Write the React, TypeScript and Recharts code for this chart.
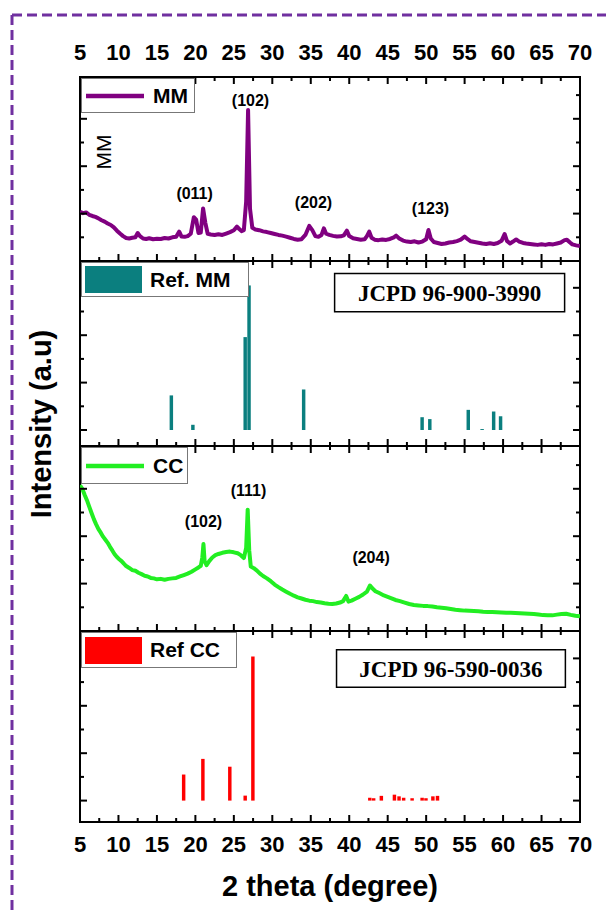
import React from 'react';
import { ComposedChart, Line, Bar, XAxis, YAxis, ReferenceArea, ReferenceDot, Legend } from 'recharts';

const SANS = '"Liberation Sans", Arial, sans-serif';
const SERIF = '"Liberation Serif", "Times New Roman", serif';

// shared 2-theta axis
const thetaTicks = [5, 7.5, 10, 12.5, 15, 17.5, 20, 22.5, 25, 27.5, 30, 32.5, 35, 37.5, 40, 42.5, 45, 47.5, 50, 52.5, 55, 57.5, 60, 62.5, 65, 67.5, 70];

// MM measured pattern (a.u.)
const mmTheta = [5.0, 5.4, 5.8, 6.2, 6.6, 7.0, 7.4, 7.8, 8.2, 8.6, 9.0, 9.4, 9.8, 10.2, 10.6, 11.0, 11.4, 11.8, 12.2, 12.5, 12.8, 13.2, 13.6, 14.0, 14.5, 15.0, 15.5, 16.0, 16.5, 17.0, 17.5, 17.9, 18.2, 18.6, 19.0, 19.4, 19.8, 20.1, 20.4, 20.7, 21.0, 21.3, 21.6, 22.0, 22.5, 23.0, 23.5, 24.0, 24.5, 25.0, 25.4, 25.7, 26.0, 26.3, 26.6, 26.85, 27.1, 27.4, 27.8, 28.3, 28.8, 29.3, 29.8, 30.3, 30.8, 31.3, 31.8, 32.3, 32.8, 33.3, 33.8, 34.3, 34.8, 35.2, 35.6, 36.0, 36.4, 36.7, 37.0, 37.4, 37.9, 38.4, 38.9, 39.3, 39.7, 40.0, 40.5, 41.0, 41.5, 42.0, 42.3, 42.6, 42.9, 43.3, 43.8, 44.3, 44.8, 45.3, 45.8, 46.1, 46.5, 47.0, 47.5, 48.0, 48.5, 49.0, 49.5, 50.0, 50.3, 50.6, 51.0, 51.5, 52.0, 52.5, 53.0, 53.5, 54.0, 54.5, 55.0, 55.4, 55.8, 56.3, 56.8, 57.3, 57.8, 58.3, 58.8, 59.3, 59.8, 60.2, 60.5, 60.9, 61.3, 61.7, 62.1, 62.6, 63.0, 63.5, 64.0, 64.5, 65.0, 65.5, 66.0, 66.5, 67.0, 67.5, 68.0, 68.3, 68.7, 69.0, 69.5, 70.0];
const mmIntensity = [2.08, 2.02, 2.05, 1.95, 1.90, 1.86, 1.80, 1.72, 1.66, 1.58, 1.52, 1.42, 1.28, 1.16, 1.05, 0.97, 0.95, 0.98, 1.00, 1.18, 1.05, 0.95, 0.93, 0.96, 0.92, 0.94, 0.93, 0.97, 0.95, 1.00, 1.02, 1.24, 1.03, 1.02, 1.05, 1.15, 1.85, 1.75, 1.18, 1.20, 2.22, 1.60, 1.15, 1.12, 1.10, 1.13, 1.10, 1.16, 1.22, 1.30, 1.45, 1.35, 1.26, 1.30, 2.50, 6.37, 2.20, 1.40, 1.33, 1.30, 1.25, 1.22, 1.18, 1.14, 1.10, 1.07, 1.03, 0.98, 0.93, 0.90, 0.92, 1.10, 1.48, 1.30, 1.05, 1.02, 1.10, 1.38, 1.15, 1.10, 1.06, 1.03, 1.04, 1.08, 1.28, 1.05, 0.96, 0.93, 0.90, 0.92, 1.05, 1.24, 0.98, 0.90, 0.88, 0.91, 0.89, 0.93, 1.00, 1.07, 0.95, 0.86, 0.82, 0.80, 0.83, 0.78, 0.82, 0.92, 1.31, 0.95, 0.80, 0.76, 0.72, 0.74, 0.78, 0.80, 0.84, 0.90, 1.03, 0.92, 0.83, 0.80, 0.77, 0.74, 0.72, 0.75, 0.72, 0.76, 0.85, 1.14, 0.85, 0.74, 0.82, 0.91, 0.82, 0.76, 0.74, 0.72, 0.70, 0.68, 0.71, 0.68, 0.72, 0.70, 0.74, 0.78, 0.88, 0.90, 0.78, 0.70, 0.66, 0.63];

// Ref. MM stick pattern (JCPD 96-900-3990)
const refMmTheta = [16.9, 19.7, 26.5, 27.0, 34.1, 49.5, 50.5, 55.5, 57.3, 58.8, 59.7];
const refMmIntensity = [1.46, 0.22, 3.92, 6.1, 1.71, 0.54, 0.46, 0.85, 0.04, 0.78, 0.58];

// CC measured pattern (a.u.)
const ccTheta = [5.0, 5.3, 5.6, 5.9, 6.2, 6.5, 6.8, 7.1, 7.4, 7.7, 8.0, 8.3, 8.6, 8.9, 9.2, 9.5, 9.8, 10.1, 10.4, 10.7, 11.0, 11.4, 11.8, 12.2, 12.6, 13.0, 13.4, 13.8, 14.2, 14.6, 15.0, 15.5, 16.0, 16.5, 17.0, 17.5, 18.0, 18.5, 19.0, 19.5, 20.0, 20.4, 20.7, 20.9, 21.05, 21.2, 21.45, 21.8, 22.2, 22.6, 23.0, 23.5, 24.0, 24.5, 25.0, 25.5, 25.9, 26.3, 26.6, 26.8, 27.0, 27.2, 27.6, 28.0, 28.4, 28.8, 29.3, 29.8, 30.3, 30.8, 31.3, 31.8, 32.3, 32.8, 33.3, 33.8, 34.3, 34.8, 35.3, 35.8, 36.3, 36.8, 37.3, 37.8, 38.3, 38.8, 39.2, 39.6, 39.9, 40.3, 40.8, 41.3, 41.8, 42.3, 42.7, 43.0, 43.4, 43.9, 44.5, 45.0, 45.5, 46.0, 46.6, 47.2, 47.8, 48.4, 49.0, 49.6, 50.2, 50.8, 51.4, 52.0, 52.6, 53.2, 53.8, 54.4, 55.0, 55.6, 56.2, 56.8, 57.4, 58.0, 58.6, 59.2, 59.8, 60.4, 61.0, 61.6, 62.2, 62.8, 63.4, 64.0, 64.6, 65.2, 65.8, 66.4, 67.0, 67.6, 68.2, 68.8, 69.4, 70.0];
const ccIntensity = [6.15, 6.0, 5.75, 5.52, 5.25, 4.98, 4.72, 4.50, 4.30, 4.15, 3.98, 3.85, 3.72, 3.55, 3.40, 3.24, 3.12, 3.03, 2.95, 2.84, 2.74, 2.66, 2.57, 2.54, 2.46, 2.40, 2.33, 2.30, 2.24, 2.22, 2.18, 2.20, 2.16, 2.20, 2.22, 2.24, 2.30, 2.36, 2.42, 2.50, 2.60, 2.68, 2.75, 3.10, 3.67, 2.95, 2.78, 2.95, 3.10, 3.20, 3.25, 3.30, 3.33, 3.35, 3.32, 3.28, 3.20, 3.08, 3.50, 5.12, 3.40, 2.72, 2.65, 2.55, 2.42, 2.32, 2.22, 2.10, 1.96, 1.85, 1.75, 1.66, 1.57, 1.49, 1.42, 1.37, 1.32, 1.28, 1.26, 1.22, 1.20, 1.17, 1.15, 1.14, 1.16, 1.20, 1.26, 1.48, 1.24, 1.28, 1.36, 1.44, 1.54, 1.66, 1.92, 1.80, 1.68, 1.60, 1.50, 1.44, 1.38, 1.31, 1.26, 1.20, 1.14, 1.10, 1.08, 1.06, 1.05, 1.03, 1.00, 0.98, 0.96, 0.93, 0.90, 0.88, 0.86, 0.85, 0.84, 0.83, 0.81, 0.80, 0.80, 0.79, 0.78, 0.77, 0.77, 0.76, 0.75, 0.74, 0.73, 0.72, 0.70, 0.67, 0.66, 0.66, 0.69, 0.72, 0.73, 0.68, 0.64, 0.62];

// Ref CC stick pattern (JCPD 96-590-0036)
const refCcTheta = [18.5, 21.0, 24.5, 26.5, 27.5, 42.7, 43.2, 44.2, 45.9, 46.5, 47.1, 48.2, 49.5, 50.0, 50.9, 51.5];
const refCcIntensity = [1.10, 1.76, 1.43, 0.21, 6.08, 0.12, 0.10, 0.20, 0.25, 0.18, 0.12, 0.10, 0.12, 0.10, 0.18, 0.20];

// peak indices
const mmPeaks = [
  { theta: 19.9, level: 2.87, text: '(011)' },
  { theta: 27.17, level: 6.79, text: '(102)' },
  { theta: 35.36, level: 2.49, text: '(202)' },
  { theta: 50.57, level: 2.24, text: '(123)' },
];
const ccPeaks = [
  { theta: 21.06, level: 4.64, text: '(102)' },
  { theta: 26.9, level: 5.95, text: '(111)' },
  { theta: 42.84, level: 3.12, text: '(204)' },
];

const toRows = (t: number[], v: number[]) => t.map((theta, i) => ({ theta, intensity: v[i] }));

const PAD = 40;
const LEFT = 80;
const PLOT_W = 500;
const W = 606;

const xTick = (h: number, showTop: boolean, showBottom: boolean) => (props: any) => {
  const { x, y, payload } = props;
  const v = Number(payload.value);
  const major = v % 5 === 0;
  const len = major ? 7 : 4;
  const top = y - h;
  return (
    <g>
      <line x1={x} x2={x} y1={y} y2={y - len} stroke="#000" strokeWidth={2} />
      <line x1={x} x2={x} y1={top} y2={top + len} stroke="#000" strokeWidth={2} />
      {major && showTop && (
        <text x={x} y={top - 17} textAnchor="middle" fontSize={22} fontWeight="bold" fontFamily={SANS} fill="#000">{v}</text>
      )}
      {major && showBottom && (
        <text x={x} y={y + 30} textAnchor="middle" fontSize={22} fontWeight="bold" fontFamily={SANS} fill="#000">{v}</text>
      )}
    </g>
  );
};

const yTick = (props: any) => {
  const { x, y, payload } = props;
  const len = Number(payload.value) % 2 === 0 ? 7 : 4;
  return (
    <g>
      <line x1={x} x2={x + len} y1={y} y2={y} stroke="#000" strokeWidth={2} />
      <line x1={x + PLOT_W} x2={x + PLOT_W - len} y1={y} y2={y} stroke="#000" strokeWidth={2} />
    </g>
  );
};

function LegendBox({ w, h, label, kind, color }: any) {
  return (
    <div
      style={{
        width: w,
        height: h,
        boxSizing: 'border-box',
        border: '1px solid #777',
        background: '#fff',
        display: 'flex',
        alignItems: 'center',
        paddingLeft: 3,
        fontFamily: SANS,
        fontWeight: 'bold',
        fontSize: 21,
        color: '#000',
      }}
    >
      {kind === 'line' ? (
        <svg width={60} height={8}>
          <line x1={1} x2={59} y1={4} y2={4} stroke={color} strokeWidth={4.5} />
        </svg>
      ) : (
        <div style={{ width: 57, height: 27, background: color }} />
      )}
      <span style={{ marginLeft: 8, whiteSpace: 'nowrap' }}>{label}</span>
    </div>
  );
}

function Panel({ top, height, domain, yTicks, showTop, showBottom, children, legend, data }: any) {
  return (
    <div style={{ position: 'absolute', left: 0, top: top - PAD }}>
      <ComposedChart
        width={W}
        height={height + 2 * PAD}
        data={data}
        margin={{ top: PAD, bottom: PAD - 1, left: LEFT - 1, right: W - LEFT - PLOT_W }}
      >
        <XAxis
          xAxisId="x"
          dataKey="theta"
          type="number"
          domain={[5, 70]}
          ticks={thetaTicks}
          interval={0}
          allowDataOverflow
          height={1}
          tickSize={0}
          tickMargin={0}
          tickLine={false}
          axisLine={false}
          tick={xTick(height, showTop, showBottom)}
        />
        <YAxis
          yAxisId="y"
          type="number"
          domain={domain}
          ticks={yTicks}
          interval={0}
          allowDataOverflow
          width={1}
          tickSize={0}
          tickMargin={0}
          tickLine={false}
          axisLine={false}
          tick={yTick}
        />
        <ReferenceArea
          xAxisId="x"
          yAxisId="y"
          x1={5}
          x2={70}
          y1={domain[0]}
          y2={domain[1]}
          fill="none"
          stroke="#000"
          strokeWidth={2}
          ifOverflow="visible"
        />
        {children}
        <Legend
          verticalAlign="middle"
          layout="horizontal"
          wrapperStyle={{ left: LEFT + 1, top: PAD + 1, width: legend.w, height: legend.h }}
          content={() => <LegendBox {...legend} />}
        />
      </ComposedChart>
    </div>
  );
}

const peakLabel = (p: any) => (
  <ReferenceDot
    key={p.text + p.theta}
    xAxisId="x"
    yAxisId="y"
    x={p.theta}
    y={p.level}
    r={0}
    fill="none"
    stroke="none"
    label={{ value: p.text, position: 'center', fontSize: 16, fontWeight: 'bold', fontFamily: SANS, fill: '#000' }}
  />
);

export default function App() {
  const mm = toRows(mmTheta, mmIntensity);
  const refMm = toRows(refMmTheta, refMmIntensity);
  const cc = toRows(ccTheta, ccIntensity);
  const refCc = toRows(refCcTheta, refCcIntensity);

  return (
    <div style={{ position: 'absolute', left: 0, top: 0, width: W, height: 910, background: '#fff', overflow: 'hidden' }}>
      <svg width={W} height={910} style={{ position: 'absolute', left: 0, top: 0 }}>
        <line x1={12} x2={12} y1={15} y2={910} stroke="#7030a0" strokeWidth={3} strokeDasharray="10 5" />
        <line x1={12} x2={W} y1={15} y2={15} stroke="#7030a0" strokeWidth={3} strokeDasharray="10 5" />
      </svg>

      <Panel top={77} height={184} domain={[0, 7.764]} yTicks={[1, 2, 3, 4, 5, 6, 7]} showTop showBottom={false}
        data={mm} legend={{ w: 114, h: 35, label: 'MM', kind: 'line', color: '#800080' }}>
        <Line xAxisId="x" yAxisId="y" dataKey="intensity" type="linear" dot={false} stroke="#800080" strokeWidth={4} strokeLinejoin="round" isAnimationActive={false} />
        {mmPeaks.map(peakLabel)}
        <ReferenceDot xAxisId="x" yAxisId="y" x={8.06} y={4.6} r={0} fill="none" stroke="none"
          label={{ value: 'MM', position: 'center', angle: -90, fontSize: 21, fontFamily: SANS, fill: '#000' }} />
      </Panel>

      <Panel top={261} height={185} domain={[-0.675, 7.131]} yTicks={[0, 1, 2, 3, 4, 5, 6]} showTop={false} showBottom={false}
        data={refMm} legend={{ w: 168, h: 35, label: 'Ref. MM', kind: 'bar', color: '#0b7f7f' }}>
        <Bar xAxisId="x" yAxisId="y" dataKey="intensity" fill="#0b7f7f" barSize={6} isAnimationActive={false} />
        <ReferenceArea xAxisId="x" yAxisId="y" x1={38.1} x2={68.0} y1={4.99} y2={6.6} fill="#fff" fillOpacity={1} stroke="#000" strokeWidth={1.5}
          label={{ value: 'JCPD 96-900-3990', position: 'center', fontSize: 23, fontWeight: 'bold', fontFamily: SERIF, fill: '#000' }} />
      </Panel>

      <Panel top={446} height={185} domain={[0, 7.806]} yTicks={[1, 2, 3, 4, 5, 6, 7]} showTop={false} showBottom={false}
        data={cc} legend={{ w: 107, h: 37, label: 'CC', kind: 'line', color: '#22ee22' }}>
        <Line xAxisId="x" yAxisId="y" dataKey="intensity" type="linear" dot={false} stroke="#22ee22" strokeWidth={4} strokeLinejoin="round" isAnimationActive={false} />
        {ccPeaks.map(peakLabel)}
      </Panel>

      <Panel top={631} height={191} domain={[-0.903, 7.156]} yTicks={[0, 1, 2, 3, 4, 5, 6]} showTop={false} showBottom
        data={refCc} legend={{ w: 156, h: 36, label: 'Ref CC', kind: 'bar', color: '#ff0000' }}>
        <Bar xAxisId="x" yAxisId="y" dataKey="intensity" fill="#ff0000" barSize={5} isAnimationActive={false} />
        <ReferenceArea xAxisId="x" yAxisId="y" x1={38.35} x2={68.1} y1={4.78} y2={6.37} fill="#fff" fillOpacity={1} stroke="#000" strokeWidth={1.5}
          label={{ value: 'JCPD 96-590-0036', position: 'center', fontSize: 23, fontWeight: 'bold', fontFamily: SERIF, fill: '#000' }} />
      </Panel>

      <div style={{ position: 'absolute', left: 41, top: 424, transform: 'translate(-50%, -50%) rotate(-90deg)', whiteSpace: 'nowrap', fontFamily: SANS, fontWeight: 'bold', fontSize: 29, color: '#000' }}>
        Intensity (a.u)
      </div>
      <div style={{ position: 'absolute', left: 330, top: 886, transform: 'translate(-50%, -50%)', whiteSpace: 'nowrap', fontFamily: SANS, fontWeight: 'bold', fontSize: 29, color: '#000' }}>
        2 theta (degree)
      </div>
    </div>
  );
}
